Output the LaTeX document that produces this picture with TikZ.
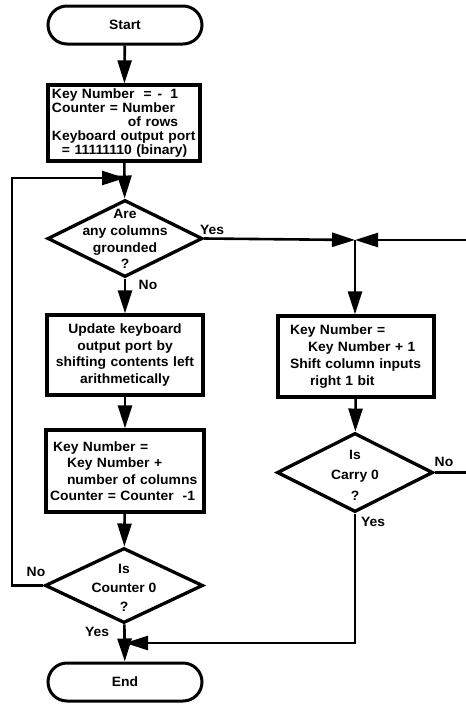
\documentclass[tikz,border=0pt]{standalone}
\usepackage{fontspec}
\setmainfont{Liberation Sans}[UprightFont=* Bold,FakeStretch=1.03]
\usetikzlibrary{arrows.meta,shapes.geometric}
\begin{document}
\begin{tikzpicture}[x=1pt,y=-1pt,
  conn/.style={line width=2.6pt},
  arr/.style={conn,-{Triangle[length=23pt,width=14pt]}},
  box/.style={draw,line width=3.3pt,inner xsep=4pt,inner ysep=0pt},
  term/.style={draw,line width=3pt,rounded corners=19pt,minimum width=154pt,minimum height=38pt,font=\fontsize{13.5}{15}\selectfont},
  dia/.style={draw,diamond,line width=3.3pt,inner sep=0pt},
  dtext/.style={align=center,inner sep=0pt},
  lbl/.style={inner sep=0pt,font=\fontsize{13.5}{15}\selectfont}]
\useasboundingbox (0,0) rectangle (466,705);

\node[term] (start) at (125,25) {Start};

\node[box,text width=144pt,minimum height=76pt,align=left,font=\fontsize{13.5}{13.8}\selectfont] (b1) at (124,123)
  {Key Number\hspace{9pt}=\hspace{6pt}-\hspace{8pt}1\\Counter = Number\\\hspace*{76pt}of rows\\Keyboard output port\\\hspace*{10pt}= 11111110 (binary)};

\node[dia,minimum width=155pt,minimum height=77pt] (d1) at (125,238.5) {};
\node[dtext,font=\fontsize{13.5}{16.7}\selectfont] (t1) at (125,239) {Are\\any columns\\grounded\\?};

\node[box,text width=148pt,minimum height=80pt,align=center,font=\fontsize{13.5}{16.8}\selectfont] (b2) at (125,355)
  {Update keyboard\\output port by\\shifting contents left\\arithmetically};

\node[box,text width=150pt,minimum height=82pt,align=left,font=\fontsize{13.5}{16.5}\selectfont] (b3) at (125,471)
  {\hspace*{3pt}Key Number =\\\hspace*{17pt}Key Number +\\\hspace*{17pt}number of columns\\Counter = Counter \ -1};

\node[dia,minimum width=158pt,minimum height=75pt] (d2) at (124,585.5) {};
\node[dtext,font=\fontsize{13.5}{19}\selectfont] (t2) at (124,588) {Is\\Counter 0\\?};

\node[term] (end) at (125,682) {End};

\node[box,text width=148pt,minimum height=81pt,align=left,font=\fontsize{13.5}{17}\selectfont] (b4) at (356,356.5)
  {\hspace*{8pt}Key Number =\\\hspace*{26pt}Key Number + 1\\\hspace*{8pt}Shift column inputs\\\hspace*{28pt}right 1 bit};

\node[dia,minimum width=156pt,minimum height=79pt] (d3) at (355,472.5) {};
\node[dtext,font=\fontsize{13.5}{20.5}\selectfont] (t3) at (355,475) {Is\\Carry 0\\?};

% labels
\node[lbl] (y1) at (212,230) {Yes};
\node[lbl] (n1) at (148,285) {No};
\node[lbl] (n2) at (36,572) {No};
\node[lbl] (y2) at (97,632) {Yes};
\node[lbl] (n3) at (444,462) {No};
\node[lbl] (y3) at (373,522) {Yes};

% coordinates
\coordinate (m1) at (125,178);
\coordinate (lc) at (12,178);
\coordinate (j) at (355,240);
\coordinate (re1) at (466,240);
\coordinate (re2) at (466,472.5);
\coordinate (m2) at (125,643);

% connectors
\draw[arr] (start) -- (b1);
\draw[arr] (b1) -- (d1);
\draw[arr] (d2.west) -| (lc) -- (m1);
\draw[arr] (d1) -- (b2);
\draw[arr] (b2) -- (b3);
\draw[arr] (b3) -- (d2);
\draw[arr] (d2) -- (end);
\draw[arr] (d1.east) -- (j);
\draw[arr] (re1) -- (j);
\draw[arr] (j) -- (j |- b4.north);
\draw[arr] (b4) -- (d3);
\draw[conn] (d3.east) -- (re2);
\draw[arr] (d3.south) |- (m2);
\end{tikzpicture}
\end{document}
